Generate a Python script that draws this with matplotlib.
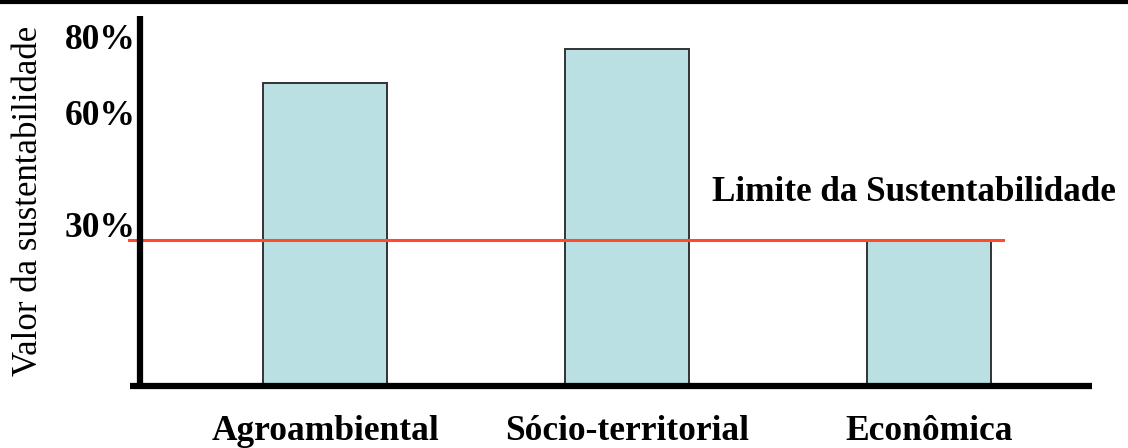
import matplotlib.pyplot as plt
from matplotlib.lines import Line2D

# dimensões da sustentabilidade
categorias = ["Agroambiental", "Sócio-territorial", "Econômica"]
valores = [62.3, 69.2, 30.0]
limite = 30.0

# rótulos do eixo y e onde ficam
rotulos_y = ["80%", "60%", "30%"]
pos_rotulos_y = [71.7, 56.1, 33.2]

plt.rcParams["font.family"] = ["Liberation Serif", "DejaVu Serif"]

fig = plt.figure(figsize=(11.28, 4.48), dpi=100)
ax = fig.add_axes([140 / 1128, 62 / 448, (1092 - 140) / 1128, (432 - 62) / 448])

x = range(len(categorias))
ax.bar(x, valores, width=0.41, color="#bae0e3", edgecolor="#333333", linewidth=1.4, zorder=2)

# linha do limite da sustentabilidade
ax.plot([-0.65, 2.245], [limite, limite], color="#ff4b2b", linewidth=2.2, zorder=3, clip_on=False)
ax.text(1.283, limite + 9.8, "Limite da Sustentabilidade", fontsize=25.3, fontweight="bold",
        ha="left", va="center")

ax.set_xlim(-0.613, 2.54)
ax.set_ylim(0, 76.0)

# eixos desenhados à mão, grossos como no desenho original
for s in ax.spines.values():
    s.set_visible(False)
ax.plot([0, 0], [0, 1], color="black", linewidth=4.5, transform=ax.transAxes,
        clip_on=False, zorder=4, solid_capstyle="butt")
ax.plot([-0.011, 1.0], [0, 0], color="black", linewidth=4.5, transform=ax.transAxes,
        clip_on=False, zorder=4, solid_capstyle="butt")

ax.set_xticks(list(x))
ax.set_xticklabels(categorias, fontsize=25.5, fontweight="bold")
ax.tick_params(axis="x", length=0, pad=21)

ax.set_yticks(pos_rotulos_y)
ax.set_yticklabels(rotulos_y, fontsize=25.5, fontweight="bold")
ax.tick_params(axis="y", length=0, pad=3)

ax.set_ylabel("Valor da sustentabilidade", fontsize=25)
ax.yaxis.set_label_coords(-0.1, 0.5)

# filete no topo da figura
fig.add_artist(Line2D([0, 1], [1 - 2.5 / 448, 1 - 2.5 / 448], color="black", linewidth=3,
                      transform=fig.transFigure))

fig.savefig("out.png", dpi=100)
